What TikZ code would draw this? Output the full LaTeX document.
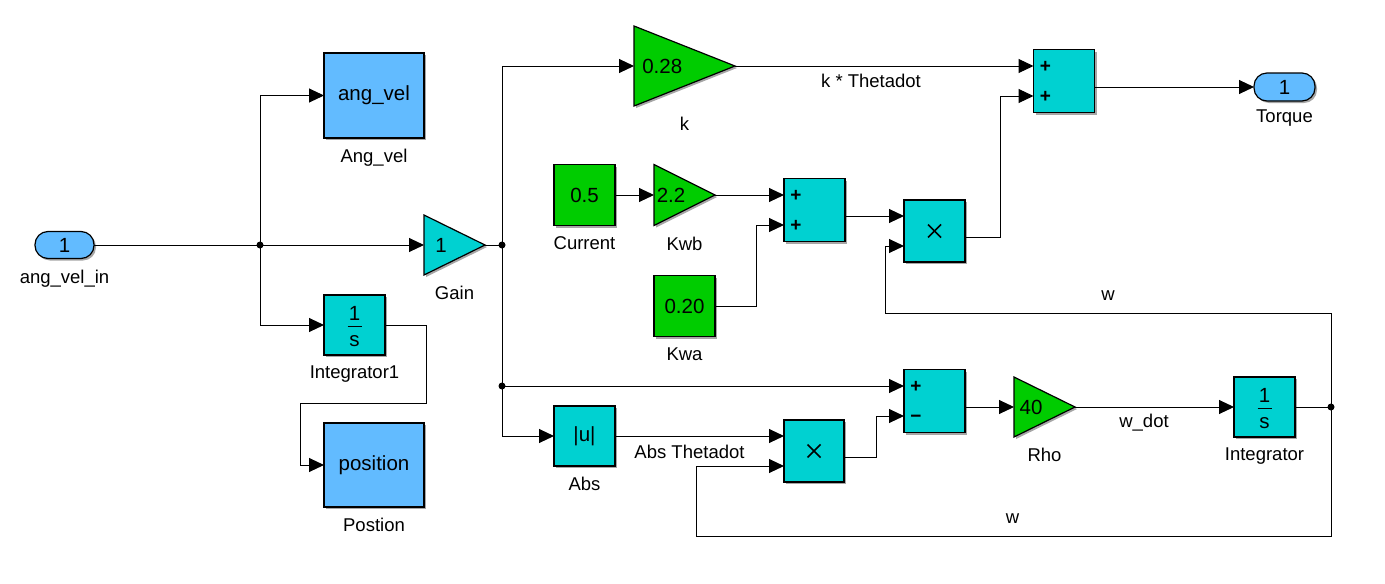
\documentclass[tikz,border=0pt]{standalone}
\usepackage{fontspec}
\setmainfont{Liberation Sans}
\usetikzlibrary{arrows.meta,calc,shadows}
\definecolor{cyanblk}{RGB}{0,209,209}
\definecolor{blueblk}{RGB}{98,187,255}
\definecolor{greenblk}{RGB}{0,204,0}
\newcommand{\blkfont}{\fontsize{20.5}{22}\selectfont}
\newcommand{\lblfont}{\fontsize{18.5}{20}\selectfont}
\newcommand{\sgnfont}{\fontsize{19}{19}\selectfont\bfseries}
\tikzset{
 wire/.style={line width=1pt, draw=black},
 sig/.style={wire, -{Triangle[length=15pt,width=14pt]}},
 blk/.style={draw=black, line width=1.2pt, inner sep=0, outer sep=0, font=\blkfont,
   drop shadow={shadow xshift=2pt, shadow yshift=-2pt, opacity=0.35, fill=black}},
 cyanbox/.style={blk, fill=cyanblk},
 bluebox/.style={blk, fill=blueblk},
 greenbox/.style={blk, fill=greenblk},
 portbox/.style={blk, fill=blueblk, rounded corners=13pt},
 tribox/.style={inner sep=0, outer sep=0},
 lbl/.style={font=\lblfont, inner sep=0},
 below lbl/.style={label={[lbl, yshift=-11pt]below:#1}},
 edgelbl/.style={font=\lblfont, inner sep=0, anchor=base},
 junction/.style={circle, fill=black, inner sep=0, minimum size=7pt},
 sgn/.style={font=\sgnfont, inner sep=0, anchor=base},
 val/.style={font=\blkfont, inner sep=0},
}
% triangle gain block: name, center, width, height, colour, value, label
\newcommand{\tri}[7]{%
 \node[tribox, minimum width=#3, minimum height=#4, below lbl=#7] (#1) at (#2) {};
 \fill[black, opacity=.35] ([shift={(2,2)}]#1.north west) -- ([shift={(2,2)}]#1.east) -- ([shift={(2,2)}]#1.south west) -- cycle;
 \filldraw[fill=#5, draw=black, line width=1.2pt] (#1.north west) -- (#1.east) -- (#1.south west) -- cycle;
 \node[val] at ($(#1.west)!0.28!(#1.east)$) {#6};
}
\newcommand{\oneovers}[1]{%
 \draw[line width=1.6pt] ($(#1.center)+(-7,1.5)$) -- ($(#1.center)+(7,1.5)$);
 \node[val, anchor=base] at ($(#1.center)+(0,-5)$) {1};
 \node[val, anchor=base] at ($(#1.center)+(0,21)$) {s};
}
\newcommand{\crossmark}[1]{%
 \draw[line width=1.5pt] ($(#1.center)+(-6.5,-6.5)$) -- ($(#1.center)+(6.5,6.5)$);
 \draw[line width=1.5pt] ($(#1.center)+(-6.5,6.5)$) -- ($(#1.center)+(6.5,-6.5)$);
}
\begin{document}
\begin{tikzpicture}[x=1pt,y=-1pt]
\useasboundingbox (0,0) rectangle (1385,584);
% blocks
\node[portbox, minimum width=59, minimum height=27, below lbl=ang\_vel\_in] (in1) at (64.5,245) {1};
\node[bluebox, minimum width=100, minimum height=85, below lbl=Ang\_vel] (angvel) at (374,95.5) {ang\_vel};
\tri{gain}{454.5,245}{61}{60}{cyanblk}{1}{Gain}
\node[cyanbox, minimum width=61, minimum height=60, below lbl=Integrator1] (int1) at (354.5,325) {};
\oneovers{int1}
\node[bluebox, minimum width=100, minimum height=84, below lbl=Postion] (pos) at (374,465) {position};
\tri{k}{684.5,66}{101}{80}{greenblk}{0.28}{k}
\node[greenbox, minimum width=61, minimum height=61, below lbl=Current] (cur) at (584.5,195) {0.5};
\tri{kwb}{684.5,195}{61}{61}{greenblk}{2.2}{Kwb}
\node[greenbox, minimum width=61, minimum height=61, below lbl=Kwa] (kwa) at (684.5,306) {0.20};
\node[cyanbox, minimum width=61, minimum height=63] (sum2) at (814.5,210) {};
\node[cyanbox, minimum width=61, minimum height=62] (prod1) at (934.5,231) {};
\node[cyanbox, minimum width=61, minimum height=63] (sum1) at (1064,81) {};
\node[portbox, minimum width=61, minimum height=28, label={[lbl, yshift=-9pt]below:Torque}] (out1) at (1284.5,87) {1};
\node[cyanbox, minimum width=61, minimum height=63] (sum3) at (934.5,401) {};
\tri{rho}{1044.5,407}{61}{60}{greenblk}{40}{Rho}
\node[cyanbox, minimum width=61, minimum height=60, below lbl=Integrator] (integ) at (1264.5,407) {};
\oneovers{integ}
\node[cyanbox, minimum width=61, minimum height=60, below lbl=Abs] (abs) at (584.5,436) {|u|};
\node[cyanbox, minimum width=60, minimum height=62] (prod2) at (814,451) {};
% ports
\foreach \b in {sum1,sum2,sum3,prod1,prod2} {
 \coordinate (\b-i1) at ($(\b.west)+(0,-15)$);
 \coordinate (\b-i2) at ($(\b.west)+(0,15)$);
 \coordinate (\b-o) at ($(\b.east)+(0,6)$);
}
% signs
\node[sgn] (s1a) at ($(sum1-i1)+(12,6)$) {+};
\node[sgn] (s1b) at ($(sum1-i2)+(12,6)$) {+};
\node[sgn] (s2a) at ($(sum2-i1)+(12,6)$) {+};
\node[sgn] (s2b) at ($(sum2-i2)+(12,6)$) {+};
\node[sgn] (s3a) at ($(sum3-i1)+(12,6)$) {+};
\node[sgn] (s3b) at ($(sum3-i2)+(12,6)$) {−};
\crossmark{prod1}
\crossmark{prod2}
% junctions and bends
\coordinate (d1) at (260,245);
\coordinate (d2) at (502,245);
\coordinate (d3) at (502,386);
\coordinate (d4) at (1331,407);
\coordinate (r1) at (426,403);
\coordinate (r2) at (300,403);
\coordinate (r3) at (756,306);
\coordinate (r4) at (1000,237);
\coordinate (r5) at (1331,313);
\coordinate (r6) at (885,313);
\coordinate (r7) at (1331,536);
\coordinate (r8) at (696,536);
\coordinate (r9) at (876,457);
% connectors
\draw[wire] (in1.east) -- (d1);
\draw[sig] (d1) |- (angvel.west);
\draw[sig] (d1) -- (gain.west);
\draw[sig] (d1) |- (int1.west);
\draw[sig] (int1.east) -| (r1) -- (r2) |- (pos.west);
\draw[wire] (gain.east) -- (d2);
\draw[sig] (d2) |- (k.west);
\draw[wire] (d2) -- (d3);
\draw[sig] (d3) -- (sum3-i1);
\draw[sig] (d3) |- (abs.west);
\draw[sig] (k.east) -- (sum1-i1);
\draw[sig] (cur.east) -- (kwb.west);
\draw[sig] (kwb.east) -- (sum2-i1);
\draw[sig] (kwa.east) -- (r3) |- (sum2-i2);
\draw[sig] (sum2-o) -- (prod1-i1);
\draw[sig] (prod1-o) -- (r4) |- (sum1-i2);
\draw[sig] (sum1-o) -- (out1.west);
\draw[sig] (sum3-o) -- (rho.west);
\draw[sig] (rho.east) -- (integ.west);
\draw[wire] (integ.east) -- (d4);
\draw[sig] (d4) -- (r5) -- (r6) |- (prod1-i2);
\draw[sig] (d4) -- (r7) -- (r8) |- (prod2-i2);
\draw[sig] (abs.east) -- (prod2-i1);
\draw[sig] (prod2-o) -- (r9) |- (sum3-i2);
\node[junction] (j1) at (d1) {};
\node[junction] (j2) at (d2) {};
\node[junction] (j3) at (d3) {};
\node[junction] (j4) at (d4) {};
% signal labels
\node[edgelbl] (l1) at (871,87) {k * Thetadot};
\node[edgelbl] (l2) at (689.5,458) {Abs Thetadot};
\node[edgelbl] (l3) at (1144,427) {w\_dot};
\node[edgelbl] (l4) at (1108,300) {w};
\node[edgelbl] (l5) at (1012.5,523) {w};
\end{tikzpicture}
\end{document}
